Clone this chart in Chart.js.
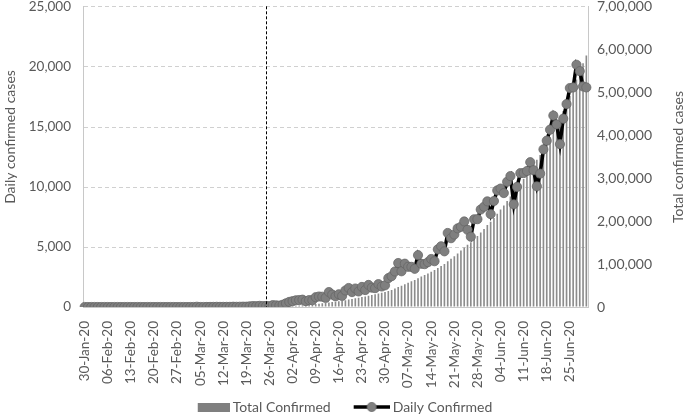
<!DOCTYPE html>
<html>
<head>
<meta charset="utf-8">
<script src="https://cdn.jsdelivr.net/npm/chart.js@4.4.1/dist/chart.umd.min.js"></script>
<style>
  html, body { margin: 0; padding: 0; background: #fff; }
  canvas { display: block; }
</style>
</head>
<body>
<canvas id="chart" width="685" height="416"></canvas>
<script>
// Data ==========================
// daily confirmed cases, 30-Jan-20 .. 30-Jun-20
const dailyJanFeb = [1, 0, 0, 1, 1, 0, 0, 0, 0, 0, 0, 0, 0, 0, 0, 0, 0, 0, 0, 0, 0, 0, 0, 0, 0, 0, 0, 0, 0, 0, 0]; // 30-Jan .. 29-Feb
const dailyMar = [0, 2, 1, 22, 2, 1, 3, 5, 9, 15, 8, 10, 10, 11, 23, 17, 22, 30, 27, 58, 78, 69, 94, 74, 86, 73, 153, 136, 120, 187, 309];
const dailyApr = [424, 486, 560, 579, 609, 484, 573, 565, 813, 871, 854, 758, 1243, 1031, 886, 1061, 922, 1371, 1580, 1239,
                  1537, 1292, 1667, 1408, 1835, 1607, 1568, 1902, 1705, 1801];
const dailyMay = [2396, 2564, 2952, 3656, 2971, 3602, 3344, 3339, 3175, 4311, 3592, 3562, 3726, 3991, 3808, 4794, 5050, 4628,
                  6154, 5720, 6023, 6536, 6667, 7111, 6414, 5843, 7293, 7300, 8105, 8336, 8782];
const dailyJun = [7723, 8812, 9689, 9847, 9472, 10408, 10882, 8536, 9981, 11128, 11135, 11306, 12039, 11374, 10032, 11090,
                  13103, 13827, 14740, 15915, 15183, 13540, 15656, 16868, 18205, 18255, 20142, 19610, 18339, 18256];

// total confirmed cases, same days
const totalJanFeb = [1, 1, 1, 2, 3, 3, 3, 3, 3, 3, 3, 3, 3, 3, 3, 3, 3, 3, 3, 3, 3, 3, 3, 3, 3, 3, 3, 3, 3, 3, 3];
const totalMar = [3, 5, 6, 28, 30, 31, 34, 39, 48, 63, 71, 81, 91, 102, 125, 142, 164, 194, 221, 279, 357, 426, 520, 594, 680,
                  753, 906, 1042, 1162, 1349, 1658];
const totalApr = [2082, 2568, 3128, 3707, 4316, 4800, 5373, 5938, 6751, 7622, 8476, 9234, 10477, 11508, 12394, 13455, 14377,
                  15748, 17328, 18567, 20104, 21396, 23063, 24471, 26306, 27913, 29481, 31383, 33088, 34889];
const totalMay = [37285, 39849, 42801, 46457, 49428, 53030, 56374, 59713, 62888, 67199, 70791, 74353, 78079, 82070, 85878,
                  90672, 95722, 100350, 106504, 112224, 118247, 124783, 131450, 138561, 144975, 150818, 158111, 165411,
                  173516, 181852, 190634];
const totalJun = [198357, 207169, 216858, 226705, 236177, 246585, 257467, 266003, 275984, 287112, 298247, 309553, 321592,
                  332966, 342998, 354088, 367191, 381018, 395758, 411673, 426856, 440396, 456052, 472920, 491125, 509380,
                  529522, 549132, 567471, 585727];

const dailyConfirmed = [].concat(dailyJanFeb, dailyMar, dailyApr, dailyMay, dailyJun);
const totalConfirmed = [].concat(totalJanFeb, totalMar, totalApr, totalMay, totalJun);

const monthNames = ["Jan", "Feb", "Mar", "Apr", "May", "Jun"];
const days = [];
for (let i = 0; i < dailyConfirmed.length; i++) {
    const d = new Date(2020, 0, 30 + i);
    days.push(String(d.getDate()).padStart(2, "0") + "-" + monthNames[d.getMonth()] + "-20");
}
const lockdownDay = "25-Mar-20";

// Helpers ==========================
const FONT = "Lato, 'Open Sans', sans-serif";
const GREY_TEXT = "#595959";
const LEGEND_BOX = 51; // legend box width; swatches sit at its right edge

function indianFormat(v) {
    const s = String(Math.round(v));
    if (s.length <= 3) return s;
    const rest = s.slice(0, -3).replace(/\B(?=(\d{2})+(?!\d))/g, ",");
    return rest + "," + s.slice(-3);
}

function barSwatch() {
    const c = document.createElement("canvas");
    c.width = LEGEND_BOX + 8; c.height = 9;
    const g = c.getContext("2d");
    g.fillStyle = "#7f7f7f";
    g.fillRect(c.width - 32, 0, 32, 9);
    return c;
}

function lineSwatch() {
    const c = document.createElement("canvas");
    c.width = LEGEND_BOX + 8; c.height = 12;
    const g = c.getContext("2d");
    const x0 = c.width - 36;
    g.strokeStyle = "#000";
    g.lineWidth = 3.5;
    g.beginPath(); g.moveTo(x0, 6); g.lineTo(c.width, 6); g.stroke();
    g.fillStyle = "#7f7f7f";
    g.strokeStyle = "#666";
    g.lineWidth = 0.75;
    g.beginPath(); g.arc(x0 + 18, 6, 4.6, 0, Math.PI * 2); g.fill(); g.stroke();
    return c;
}

// dashed grid, lockdown marker, axis titles
const extras = {
    id: "extras",
    beforeDatasetsDraw(chart) {
        const { ctx, chartArea, scales } = chart;
        ctx.save();
        ctx.strokeStyle = "#d0d0d0";
        ctx.lineWidth = 1;
        ctx.setLineDash([4, 3]);
        scales.y.ticks.forEach(t => {
            if (t.value === 0) return;
            const y = Math.round(scales.y.getPixelForValue(t.value)) + 0.5;
            ctx.beginPath();
            ctx.moveTo(chartArea.left + 1, y);
            ctx.lineTo(chartArea.right - 1, y);
            ctx.stroke();
        });
        ctx.restore();
    },
    afterDatasetsDraw(chart) {
        const { ctx, chartArea, scales } = chart;
        const x = scales.x.getPixelForValue(days.indexOf(lockdownDay));
        ctx.save();
        ctx.strokeStyle = "#000";
        ctx.lineWidth = 1;
        ctx.setLineDash([3, 2]);
        ctx.beginPath();
        ctx.moveTo(Math.round(x) + 0.5, chartArea.top);
        ctx.lineTo(Math.round(x) + 0.5, chartArea.bottom);
        ctx.stroke();
        ctx.restore();
    },
    afterDraw(chart) {
        const { ctx } = chart;
        ctx.save();
        ctx.fillStyle = GREY_TEXT;
        ctx.font = "14px " + FONT;
        ctx.textAlign = "center";
        ctx.textBaseline = "middle";
        ctx.translate(10, 137);
        ctx.rotate(-Math.PI / 2);
        ctx.fillText("Daily confirmed cases", 0, 0);
        ctx.restore();

        ctx.save();
        ctx.fillStyle = GREY_TEXT;
        ctx.font = "14px " + FONT;
        ctx.textAlign = "center";
        ctx.textBaseline = "middle";
        ctx.translate(678, 157);
        ctx.rotate(-Math.PI / 2);
        ctx.fillText("Total confirmed cases", 0, 0);
        ctx.restore();
    }
};

// Chart ==========================
const ctx = document.getElementById("chart").getContext("2d");

new Chart(ctx, {
    type: "bar",
    data: {
        labels: days,
        datasets: [
            {
                type: "line",
                label: "Daily Confirmed",
                data: dailyConfirmed,
                yAxisID: "y",
                order: 1,
                borderColor: "#000",
                borderWidth: 3.5,
                tension: 0,
                pointRadius: 4.6,
                pointBackgroundColor: "#7f7f7f",
                pointBorderColor: "#666",
                pointBorderWidth: 0.75
            },
            {
                type: "bar",
                label: "Total Confirmed",
                data: totalConfirmed,
                yAxisID: "y1",
                order: 2,
                backgroundColor: "#8c8c8c",
                categoryPercentage: 1,
                barPercentage: 0.5
            }
        ]
    },
    options: {
        responsive: false,
        animation: false,
        layout: { padding: { left: 0, right: 18, top: 0, bottom: -8 } },
        plugins: {
            tooltip: { enabled: false },
            legend: {
                position: "bottom",
                labels: {
                    usePointStyle: true,
                    pointStyleWidth: LEGEND_BOX,
                    padding: 4,
                    color: GREY_TEXT,
                    font: { family: FONT, size: 14 },
                    generateLabels: () => [
                        { text: "Total Confirmed", pointStyle: barSwatch(), fillStyle: "#7f7f7f", strokeStyle: "#7f7f7f", lineWidth: 0, datasetIndex: 1, fontColor: GREY_TEXT },
                        { text: "Daily Confirmed", pointStyle: lineSwatch(), fillStyle: "#7f7f7f", strokeStyle: "#000", lineWidth: 0, datasetIndex: 0, fontColor: GREY_TEXT }
                    ]
                }
            }
        },
        scales: {
            x: {
                offset: true,
                grid: { display: false },
                border: { color: "#c8c8c8" },
                ticks: {
                    autoSkip: false,
                    maxRotation: 90,
                    minRotation: 90,
                    padding: 6,
                    color: GREY_TEXT,
                    font: { family: FONT, size: 13.5 },
                    callback: (v, i) => (i % 7 === 0 ? days[i] : null)
                },
                afterFit: s => { s.height = 89; }
            },
            y: {
                position: "left",
                min: 0,
                max: 25000,
                grid: {
                    drawOnChartArea: false,
                    drawTicks: true,
                    tickLength: 12,
                    tickColor: "rgba(0,0,0,0)"
                },
                border: { color: "#c8c8c8" },
                ticks: {
                    stepSize: 5000,
                    padding: 0,
                    color: GREY_TEXT,
                    font: { family: FONT, size: 13.5, lineHeight: 0.9 },
                    callback: v => v.toLocaleString("en-US")
                },
                afterFit: s => { s.width = 83; }
            },
            y1: {
                position: "right",
                min: 0,
                max: 700000,
                grid: {
                    drawOnChartArea: false,
                    drawTicks: true,
                    tickLength: 9,
                    tickColor: "rgba(0,0,0,0)"
                },
                border: { color: "#c8c8c8" },
                ticks: {
                    stepSize: 100000,
                    padding: 0,
                    color: GREY_TEXT,
                    font: { family: FONT, size: 14, lineHeight: 0.9 },
                    callback: v => indianFormat(v)
                },
                afterFit: s => { s.width = 79; }
            }
        }
    },
    plugins: [extras]
});
</script>
</body>
</html>
